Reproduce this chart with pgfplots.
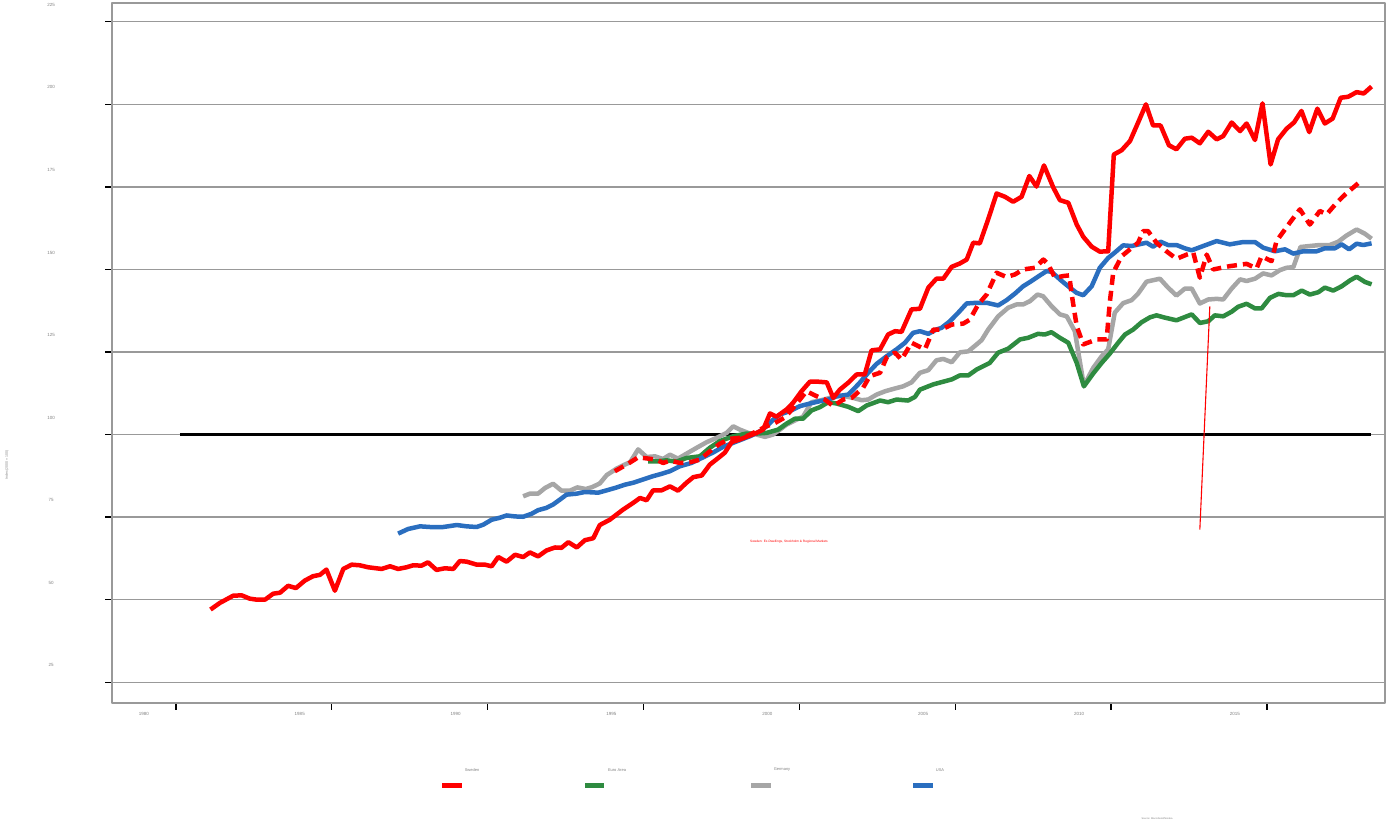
\documentclass[border=0pt]{standalone}
\usepackage{fontspec}
\setmainfont{Liberation Sans}
\usepackage{pgfplots}
\usepackage{pgfplotstable}
\pgfplotsset{compat=1.18}
\definecolor{swred}{HTML}{FF0000}
\definecolor{eagreen}{HTML}{2E8B40}
\definecolor{degray}{HTML}{A6A6A6}
\definecolor{usblue}{HTML}{2A6EBF}
\definecolor{gridgray}{HTML}{999999}
\definecolor{labgray}{HTML}{808080}

\pgfplotstableread{
x y
1981.11 47.0
1981.41 49.0
1981.84 51.2
1982.11 51.3
1982.37 50.3
1982.59 50.0
1982.86 50.0
1983.12 51.8
1983.34 52.1
1983.60 54.2
1983.85 53.5
1984.14 55.8
1984.40 57.1
1984.62 57.5
1984.83 59.1
1985.10 52.7
1985.37 59.3
1985.64 60.6
1985.90 60.4
1986.17 59.8
1986.60 59.3
1986.87 60.1
1987.13 59.3
1987.40 59.8
1987.61 60.4
1987.88 60.3
1988.09 61.3
1988.36 59.0
1988.63 59.5
1988.90 59.3
1989.11 61.7
1989.33 61.5
1989.65 60.6
1989.91 60.6
1990.13 60.1
1990.34 62.9
1990.61 61.5
1990.88 63.6
1991.14 62.9
1991.36 64.3
1991.62 63.1
1991.89 64.9
1992.16 65.8
1992.37 65.7
1992.59 67.4
1992.86 65.8
1993.12 68.0
1993.39 68.6
1993.60 72.6
1993.92 74.2
1994.35 77.3
1994.67 79.3
1994.89 80.8
1995.10 80.1
1995.31 83.1
1995.58 83.1
1995.85 84.3
1996.11 83.0
1996.38 85.4
1996.60 87.1
1996.87 87.6
1997.13 90.9
1997.40 92.9
1997.61 94.5
1997.83 97.7
1998.09 98.5
1998.36 99.5
1998.63 100.5
1998.84 101.5
1999.06 106.4
1999.27 105.4
1999.59 107.6
1999.80 109.6
2000.07 113.1
2000.34 116.0
2000.61 116.0
2000.88 115.8
2001.09 111.1
2001.30 113.6
2001.57 115.7
2001.84 118.2
2002.10 118.2
2002.32 125.5
2002.59 125.8
2002.85 130.3
2003.07 131.3
2003.28 131.1
2003.60 137.9
2003.87 138.1
2004.14 144.5
2004.40 147.2
2004.62 147.2
2004.89 150.8
2005.15 151.8
2005.37 153.0
2005.58 158.1
2005.79 157.9
2006.06 165.2
2006.33 173.0
2006.60 172.0
2006.86 170.5
2007.13 172.0
2007.38 178.3
2007.61 175.1
2007.85 181.5
2008.15 174.8
2008.36 171.0
2008.63 170.2
2008.90 163.6
2009.11 159.9
2009.38 156.9
2009.64 155.4
2009.91 155.5
2010.09 184.8
2010.34 186.1
2010.61 188.9
2010.87 194.5
2011.12 200.0
2011.35 193.6
2011.59 193.6
2011.86 187.6
2012.10 186.4
2012.37 189.6
2012.59 189.9
2012.85 188.2
2013.12 191.7
2013.39 189.4
2013.60 190.4
2013.87 194.5
2014.14 191.9
2014.35 194.2
2014.62 189.2
2014.86 200.3
2015.12 181.8
2015.36 189.4
2015.63 192.6
2015.87 194.5
2016.11 198.0
2016.36 191.6
2016.62 198.7
2016.86 194.2
2017.11 195.7
2017.37 202.0
2017.61 202.3
2017.88 203.7
2018.11 203.3
2018.36 205.4
}\sweden

\pgfplotstableread{
x y
1994.08 88.9
1994.46 90.9
1994.83 93.1
1995.42 92.4
1995.63 91.4
1995.85 92.1
1996.17 91.4
1996.49 91.6
1996.81 92.4
1997.13 94.9
1997.45 97.2
1997.77 98.7
1998.09 99.0
1998.36 99.7
1998.63 101.0
1998.95 102.5
1999.22 103.5
1999.54 105.2
1999.80 108.0
2000.23 113.1
2000.56 111.6
2000.82 110.6
2001.09 108.6
2001.41 110.6
2001.68 111.1
2002.05 114.2
2002.26 117.7
2002.59 118.7
2002.80 123.3
2003.07 124.8
2003.28 122.7
2003.60 127.8
2004.03 125.8
2004.30 131.8
2004.56 131.8
2004.89 133.3
2005.26 133.6
2005.47 134.8
2005.74 139.4
2006.01 142.4
2006.33 149.0
2006.65 147.7
2006.92 148.5
2007.18 150.0
2007.56 150.5
2007.83 153.0
2007.99 151.5
2008.20 147.5
2008.47 148.0
2008.66 148.2
2008.74 142.4
2008.90 132.8
2009.11 127.3
2009.54 128.8
2009.86 128.8
2009.96 139.9
2010.07 149.0
2010.34 154.0
2010.61 156.1
2010.87 158.1
2011.03 161.6
2011.19 161.6
2011.46 158.1
2011.78 155.5
2012.10 153.2
2012.43 154.5
2012.64 155.1
2012.85 147.5
2013.07 154.5
2013.28 150.0
2013.81 151.0
2014.35 151.7
2014.67 150.3
2014.83 154.0
2015.15 152.5
2015.31 158.6
2015.74 164.2
2016.06 168.2
2016.38 163.6
2016.70 167.7
2016.92 166.7
2017.24 170.2
2017.51 172.7
2017.77 174.8
2018.04 177.0
}\swedenb

\pgfplotstableread{
x y
1987.13 70.0
1987.45 71.4
1987.83 72.2
1988.15 72.0
1988.58 72.0
1989.01 72.6
1989.33 72.2
1989.65 72.0
1989.86 72.7
1990.13 74.2
1990.39 74.8
1990.61 75.5
1990.88 75.2
1991.14 75.1
1991.41 76.0
1991.62 77.1
1991.89 77.8
1992.10 78.8
1992.32 80.3
1992.53 81.8
1992.86 82.1
1993.12 82.6
1993.55 82.4
1993.82 83.1
1994.08 83.8
1994.40 84.8
1994.67 85.4
1994.99 86.4
1995.31 87.4
1995.58 88.1
1995.85 88.9
1996.17 90.4
1996.54 91.4
1996.87 92.9
1997.24 94.6
1997.56 96.3
1997.88 97.5
1998.15 98.5
1998.47 99.7
1998.74 101.0
1998.95 102.5
1999.16 104.5
1999.38 106.1
1999.70 107.1
2000.02 108.6
2000.34 109.4
2000.66 110.1
2000.93 110.6
2001.20 111.6
2001.57 112.1
2001.73 113.6
2001.94 115.7
2002.21 118.7
2002.48 121.4
2002.80 123.7
2003.12 125.8
2003.39 127.8
2003.65 130.8
2003.87 131.3
2004.14 130.5
2004.40 131.8
2004.56 132.3
2004.83 134.3
2005.10 136.9
2005.37 139.7
2005.69 139.9
2006.01 139.9
2006.38 139.1
2006.65 140.7
2006.92 142.7
2007.18 144.9
2007.45 146.5
2007.72 148.2
2007.93 149.5
2008.09 149.3
2008.42 146.5
2008.68 144.5
2008.90 142.9
2009.11 142.2
2009.38 144.9
2009.64 150.5
2009.91 153.5
2010.12 155.1
2010.39 157.3
2010.66 157.1
2011.14 158.1
2011.35 156.9
2011.59 158.4
2011.83 157.4
2012.10 157.4
2012.37 156.4
2012.59 155.8
2012.96 157.1
2013.39 158.6
2013.81 157.6
2014.24 158.3
2014.62 158.3
2014.88 156.6
2015.26 155.5
2015.58 156.1
2015.85 154.8
2016.17 155.5
2016.60 155.5
2016.86 156.4
2017.18 156.4
2017.40 157.6
2017.64 156.1
2017.88 157.8
2018.09 157.4
2018.36 157.9
}\usa

\pgfplotstableread{
x y
1991.14 81.3
1991.36 82.1
1991.62 82.1
1991.84 83.8
1992.10 85.1
1992.37 83.0
1992.64 83.0
1992.88 84.0
1993.15 83.5
1993.36 84.1
1993.60 85.2
1993.82 87.7
1994.14 89.7
1994.40 90.9
1994.57 91.6
1994.83 95.5
1995.10 93.2
1995.37 93.4
1995.63 92.6
1995.85 93.9
1996.11 92.7
1996.38 94.2
1996.71 96.0
1997.03 97.7
1997.35 99.0
1997.67 100.5
1997.88 102.5
1998.09 101.5
1998.36 100.5
1998.63 100.0
1998.90 99.3
1999.16 100.0
1999.38 101.5
1999.59 103.0
1999.91 104.5
2000.12 105.4
2000.39 109.8
2000.66 110.3
2000.98 111.1
2001.25 111.6
2001.46 111.6
2001.73 111.1
2002.00 110.4
2002.21 110.6
2002.48 112.1
2002.75 113.1
2003.01 113.8
2003.33 114.6
2003.60 115.8
2003.87 118.7
2004.14 119.5
2004.40 122.5
2004.62 122.9
2004.89 121.9
2005.15 124.9
2005.42 125.2
2005.69 127.3
2005.85 128.6
2006.06 131.8
2006.38 135.8
2006.70 138.4
2006.97 139.4
2007.18 139.4
2007.40 140.4
2007.64 142.4
2007.82 141.9
2008.09 138.9
2008.36 136.4
2008.58 135.8
2008.84 131.3
2009.13 114.8
2009.43 120.2
2009.70 123.7
2009.91 125.8
2010.12 136.9
2010.39 139.8
2010.66 140.7
2010.87 142.7
2011.14 146.3
2011.57 147.2
2011.83 144.5
2012.10 142.1
2012.37 144.2
2012.59 144.2
2012.85 139.7
2013.12 140.9
2013.39 141.1
2013.60 140.9
2013.87 144.2
2014.14 147.0
2014.35 146.5
2014.62 147.2
2014.88 148.8
2015.15 148.2
2015.42 149.8
2015.63 150.5
2015.85 150.7
2016.08 156.8
2016.38 157.1
2016.70 157.4
2017.02 157.4
2017.29 158.4
2017.56 160.3
2017.88 162.1
2018.15 160.8
2018.36 159.3
}\germany

\pgfplotstableread{
x y
1995.15 91.9
1995.47 91.9
1995.74 92.2
1996.06 91.8
1996.38 92.9
1996.81 93.4
1997.13 96.0
1997.45 98.0
1997.88 99.5
1998.31 100.3
1998.63 100.3
1998.95 100.5
1999.32 101.5
1999.59 103.3
1999.86 104.8
2000.12 104.8
2000.39 107.3
2000.66 108.3
2000.93 109.8
2001.20 109.4
2001.57 108.4
2001.89 107.1
2002.16 108.8
2002.59 110.3
2002.85 109.8
2003.12 110.6
2003.49 110.3
2003.71 111.4
2003.87 113.6
2004.30 115.2
2004.89 116.7
2005.15 117.9
2005.42 117.9
2005.69 119.7
2006.11 121.7
2006.38 124.8
2006.70 126.0
2007.08 128.8
2007.34 129.3
2007.66 130.5
2007.88 130.3
2008.09 131.0
2008.36 129.3
2008.63 127.8
2008.90 121.7
2009.13 114.6
2009.43 118.5
2009.70 121.7
2009.96 124.5
2010.23 127.8
2010.45 130.3
2010.71 131.8
2010.98 134.0
2011.25 135.5
2011.46 136.1
2011.73 135.4
2012.10 134.6
2012.32 135.4
2012.59 136.4
2012.85 133.8
2013.12 134.3
2013.33 136.1
2013.60 135.8
2013.87 137.2
2014.08 138.7
2014.35 139.6
2014.62 138.2
2014.83 138.2
2015.10 141.4
2015.37 142.6
2015.63 142.2
2015.85 142.2
2016.12 143.6
2016.38 142.4
2016.65 143.1
2016.86 144.5
2017.13 143.6
2017.40 144.9
2017.67 146.7
2017.88 147.8
2018.15 146.2
2018.36 145.5
}\euro

\begin{document}
\begin{tikzpicture}[x=1pt,y=1pt]
\path[use as bounding box] (0,0) rectangle (1393,821);
\begin{axis}[
  at={(112pt,118pt)}, anchor=south west,
  scale only axis, width=1273pt, height=700pt,
  xmin=1977.95, xmax=2018.79, ymin=18.7, ymax=230.7,
  xtick={1980,1985,1990,1995,2000,2005,2010,2015},
  xticklabels={1980,1985,1990,1995,2000,2005,2010,2015},
  ytick={25,50,75,100,125,150,175,200,225},
  yticklabels={25,50,75,100,125,150,175,200,225},
  ymajorgrids, grid style={gridgray, line width=1.2pt},
  axis line style={gridgray, line width=1.5pt},
  tick pos=left, tick align=outside, major tick length=7pt,
  major tick style={black, line width=1.3pt},
  xticklabel style={anchor=center, xshift=-32pt, yshift=-4pt, font=\fontsize{4.5}{5}\selectfont, text=labgray},
  yticklabel style={anchor=center, xshift=-54pt, yshift=17pt, font=\fontsize{4.5}{5}\selectfont, text=labgray},
  line join=round,
]
\addplot[black, line width=2.8pt] coordinates {(1980.13,100) (2018.34,100)};
\addplot[degray, line width=4.5pt] table[x=x,y=y] {\germany};
\addplot[eagreen, line width=4.5pt] table[x=x,y=y] {\euro};
\addplot[usblue, line width=4.5pt] table[x=x,y=y] {\usa};
\addplot[swred, line width=4.5pt, dash pattern=on 10pt off 6pt] table[x=x,y=y] {\swedenb};
\addplot[swred, line width=4.5pt] table[x=x,y=y] {\sweden};
\addplot[swred, line width=1.1pt] coordinates {(2013.17,138.8) (2012.85,71.2)};
\node[text=swred, font=\fontsize{3.2}{4}\selectfont] at (axis cs:1999.67,67.6) {Sweden: Ex-Dwellings, Stockholm \& Regional Markets};
\end{axis}
\node[rotate=90, text=labgray, font=\fontsize{3.5}{4}\selectfont] at (7,356) {Index (2000 = 100)};
\draw[swred, line width=5pt] (442,35) -- (462,35);
\node[text=labgray, font=\fontsize{4}{5}\selectfont] at (472,51) {Sweden};
\draw[eagreen, line width=5pt] (585,35) -- (604,35);
\node[text=labgray, font=\fontsize{4}{5}\selectfont] at (617,51) {Euro Area};
\draw[degray, line width=5pt] (751,35) -- (771,35);
\node[text=labgray, font=\fontsize{4}{5}\selectfont] at (782,51) {Germany};
\draw[usblue, line width=5pt] (913,35) -- (933,35);
\node[text=labgray, font=\fontsize{4}{5}\selectfont] at (940,51) {USA};
\node[text=labgray, font=\fontsize{2.5}{3}\selectfont] at (1157,2) {Source: Macrobond/Nordea};
\end{tikzpicture}
\end{document}
